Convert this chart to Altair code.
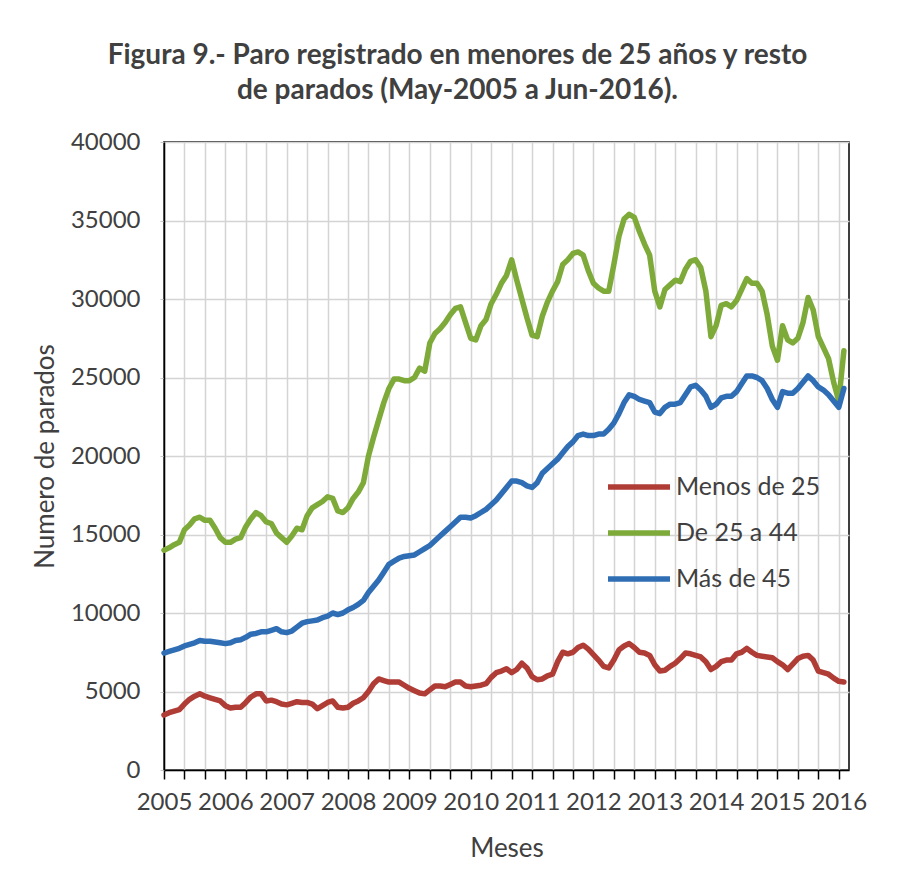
import altair as alt
import pandas as pd

series_names = ["Menos de 25", "De 25 a 44", "Más de 45"]
series_colors = ["#B03C36", "#7EAA3A", "#2F6EB5"]
year_labels = ["2005", "2006", "2007", "2008", "2009", "2010",
               "2011", "2012", "2013", "2014", "2015", "2016"]

# Monthly values, May-2005 .. Jun-2016 (134 months)
menos_25 = [
    3500, 3650, 3750, 3850, 4200, 4500, 4700, 4850, 4700, 4600, 4500, 4400,
    4100, 3950, 4000, 4000, 4300, 4650, 4850, 4850, 4400, 4450, 4350, 4200,
    4150, 4250, 4350, 4300, 4300, 4200, 3900, 4100, 4300, 4400, 4000, 3950,
    4000, 4250, 4400, 4600, 5000, 5500, 5800, 5700, 5600, 5600, 5600, 5400,
    5200, 5050, 4900, 4850, 5100, 5350, 5350, 5300, 5450, 5600, 5600, 5350,
    5300, 5350, 5400, 5500, 5900, 6200, 6300, 6450, 6200, 6400, 6800, 6500,
    5950, 5750, 5800, 6000, 6100, 6900, 7500, 7400, 7500, 7800, 7950, 7700,
    7350, 7000, 6600, 6500, 7000, 7650, 7900, 8050, 7800, 7500, 7450, 7300,
    6700, 6300, 6350, 6600, 6800, 7100, 7450, 7400, 7300, 7200, 6900, 6400,
    6600, 6900, 7000, 7000, 7400, 7500, 7750, 7500, 7300, 7250, 7200, 7150,
    6900, 6700, 6400, 6750, 7100, 7250, 7300, 7000, 6300, 6200, 6100, 5850,
    5650, 5600,
]
de_25_a_44 = [
    14000, 14150, 14350, 14500, 15300, 15600, 16000, 16100, 15900, 15900, 15400, 14800,
    14500, 14500, 14700, 14800, 15500, 16000, 16400, 16200, 15800, 15700, 15100, 14800,
    14500, 14900, 15400, 15300, 16200, 16700, 16900, 17100, 17400, 17300, 16500, 16400,
    16700, 17300, 17700, 18300, 20000, 21200, 22300, 23400, 24300, 24900, 24900, 24800,
    24800, 25000, 25600, 25400, 27200, 27800, 28100, 28500, 29000, 29400, 29500, 28500,
    27500, 27400, 28300, 28700, 29700, 30300, 31000, 31500, 32500, 31200, 30000, 28800,
    27700, 27600, 28900, 29800, 30500, 31100, 32200, 32500, 32900, 33000, 32800, 31800,
    31000, 30700, 30500, 30500, 32200, 34000, 35100, 35400, 35200, 34300, 33500, 32800,
    30500, 29500, 30600, 30900, 31200, 31100, 31900, 32400, 32500, 32000, 30500, 27600,
    28300, 29600, 29700, 29500, 29900, 30600, 31300, 31000, 31000, 30500, 29000, 27000,
    26100, 28300, 27400, 27200, 27500, 28500, 30100, 29300, 27600, 26900, 26200, 24700,
    23500, 26700,
]
mas_45 = [
    7450, 7550, 7650, 7750, 7900, 8000, 8100, 8250, 8200, 8200, 8150, 8100,
    8050, 8100, 8250, 8300, 8450, 8650, 8700, 8800, 8800, 8900, 9000, 8800,
    8750, 8850, 9100, 9350, 9450, 9500, 9550, 9700, 9800, 10000, 9900, 10000,
    10200, 10350, 10550, 10800, 11300, 11700, 12100, 12600, 13100, 13300, 13500, 13600,
    13650, 13700, 13900, 14100, 14300, 14600, 14900, 15200, 15500, 15800, 16100, 16100,
    16050, 16200, 16400, 16600, 16900, 17200, 17600, 18000, 18400, 18400, 18300, 18100,
    18000, 18300, 18900, 19200, 19500, 19800, 20200, 20600, 20900, 21300, 21400, 21300,
    21300, 21400, 21400, 21700, 22100, 22700, 23400, 23900, 23800, 23600, 23500, 23400,
    22800, 22700, 23100, 23300, 23300, 23400, 23900, 24400, 24500, 24200, 23800, 23100,
    23300, 23700, 23800, 23800, 24100, 24600, 25100, 25100, 25000, 24800, 24300, 23600,
    23100, 24100, 24000, 24000, 24300, 24700, 25100, 24800, 24400, 24200, 23900, 23500,
    23100, 24300,
]

rows = []
for name, vals in zip(series_names, [menos_25, de_25_a_44, mas_45]):
    for i, v in enumerate(vals):
        rows.append({"mes": i, "valor": v, "serie": name})
df = pd.DataFrame(rows)

FONT = "Lato"
TXT = "#404040"

year_array = "[" + ",".join("'" + y + "'" for y in year_labels) + "]"
label_expr = f"datum.value % 12 == 0 ? {year_array}[datum.value / 12] : ''"

chart = alt.Chart(df).mark_line(
    strokeWidth=5.5, strokeCap="round", strokeJoin="round"
).encode(
    x=alt.X(
        "mes:Q",
        scale=alt.Scale(domain=[0, 134], nice=False, zero=False),
        axis=alt.Axis(
            title="Meses",
            values=list(range(0, 133, 4)),
            labelExpr=label_expr,
            labelOverlap=False,
            labelFlush=False,
            tickSize=9,
            tickColor="black",
            tickWidth=1.5,
            labelPadding=11,
            titlePadding=21,
        ),
    ),
    y=alt.Y(
        "valor:Q",
        scale=alt.Scale(domain=[0, 40000], nice=False),
        axis=alt.Axis(
            title="Numero de parados",
            values=list(range(0, 40001, 5000)),
            format="d",
            tickSize=4,
            tickColor="#c8c8c8",
            labelPadding=20,
            titlePadding=12,
        ),
    ),
    color=alt.Color(
        "serie:N",
        sort=series_names,
        scale=alt.Scale(domain=series_names, range=series_colors),
        legend=alt.Legend(
            title=None,
            orient="none",
            legendX=452,
            legendY=322,
            symbolType="M-1.55,0H1.55",
            symbolSize=1600,
            symbolStrokeWidth=5.5,
            labelFontSize=25,
            labelFont=FONT,
            labelColor=TXT,
            labelOffset=14,
            rowPadding=10,
        ),
    ),
).properties(
    width=685,
    height=628,
    autosize=alt.AutoSizeParams(type="none"),
    padding={"left": 156, "top": 134, "right": 51, "bottom": 93},
    background="white",
    title=alt.TitleParams(
        text=["Figura 9.- Paro registrado en menores de 25 años y resto",
              "de parados (May-2005 a Jun-2016)."],
        font=FONT,
        fontSize=28,
        fontWeight="bold",
        color=TXT,
        anchor="middle",
        dx=-49,
        lineHeight=35,
        offset=25,
    ),
).configure_view(
    stroke="black", strokeWidth=1.5
).configure_axis(
    labelFont=FONT,
    titleFont=FONT,
    labelFontSize=24,
    titleFontSize=26,
    titleFontWeight="normal",
    labelColor=TXT,
    titleColor=TXT,
    gridColor="#d4d4d4",
    gridWidth=1.5,
    domainColor="black",
    domainWidth=1.5,
)

chart.save("out.html", embed_options={"renderer": "svg", "actions": False})
